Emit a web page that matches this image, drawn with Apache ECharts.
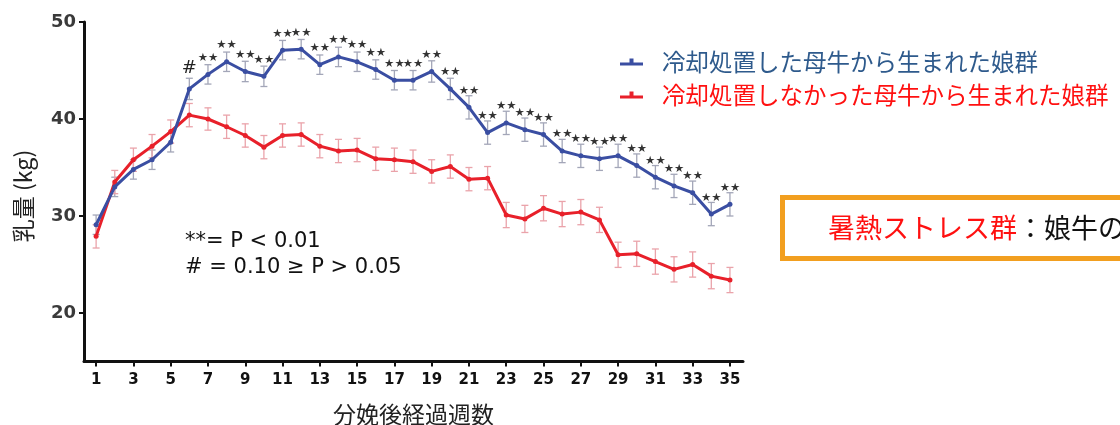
<!DOCTYPE html>
<html>
<head>
<meta charset="utf-8">
<script src="https://cdn.jsdelivr.net/npm/echarts@6/dist/echarts.min.js"></script>
<style>
html,body{margin:0;padding:0;background:#fff;}
#chart{width:1120px;height:425px;}
</style>
</head>
<body>
<div id="chart"></div>
<script>
// ---- data ----
var weeks = [1,2,3,4,5,6,7,8,9,10,11,12,13,14,15,16,17,18,19,20,21,22,23,24,25,26,27,28,29,30,31,32,33,34,35];
var blueVals = [29.1,33.0,34.8,35.8,37.6,43.1,44.6,45.9,44.9,44.4,47.1,47.2,45.6,46.4,45.9,45.1,44.0,44.0,44.9,43.1,41.2,38.6,39.6,38.9,38.4,36.7,36.2,35.9,36.2,35.2,34.0,33.1,32.4,30.2,31.2];
var blueErr  = [1.0,1.0,1.0,1.0,1.0,1.1,1.0,1.0,1.05,1.05,1.0,1.0,1.0,1.0,1.0,1.0,1.0,1.0,1.1,1.1,1.2,1.2,1.2,1.2,1.2,1.2,1.2,1.2,1.2,1.2,1.2,1.2,1.2,1.2,1.2];
var redVals  = [27.9,33.5,35.8,37.2,38.7,40.4,40.0,39.2,38.3,37.1,38.3,38.4,37.2,36.7,36.8,35.9,35.8,35.6,34.6,35.1,33.8,33.9,30.1,29.7,30.8,30.2,30.4,29.6,26.0,26.1,25.3,24.5,25.0,23.8,23.4];
var redErr   = [1.2,1.2,1.2,1.2,1.2,1.2,1.15,1.2,1.2,1.2,1.2,1.2,1.2,1.2,1.2,1.2,1.2,1.2,1.2,1.2,1.2,1.2,1.3,1.4,1.3,1.3,1.3,1.3,1.3,1.3,1.3,1.3,1.3,1.3,1.3];
var sig = ['','','','','','#','**','**','**','**','**','**','**','**','**','**','**','**','**','**','**','**','**','**','**','**','**','**','**','**','**','**','**','**','**'];
var xTicks = [1,3,5,7,9,11,13,15,17,19,21,23,25,27,29,31,33,35];
var yTicks = [20,30,40,50];
var nameBlue = '冷却処置した母牛から生まれた娘群';
var nameRed = '冷却処置しなかった母牛から生まれた娘群';

// ---- build ----
var BLUE = '#3a4ea2', RED = '#e8202a';
function pairs(vals){ return weeks.map(function(w,i){ return [w, vals[i]]; }); }
function errData(vals, errs){ return weeks.map(function(w,i){ return [w, vals[i], errs[i]]; }); }
function errRender(color){
  return function(params, api){
    var w = api.value(0), v = api.value(1), e = api.value(2);
    var top = api.coord([w, v + e]), bot = api.coord([w, v - e]);
    var c = 3.5;
    var st = {stroke: color, lineWidth: 1.3};
    return {type:'group', children:[
      {type:'line', shape:{x1:top[0], y1:top[1], x2:bot[0], y2:bot[1]}, style:st},
      {type:'line', shape:{x1:top[0]-c, y1:top[1], x2:top[0]+c, y2:top[1]}, style:st},
      {type:'line', shape:{x1:bot[0]-c, y1:bot[1], x2:bot[0]+c, y2:bot[1]}, style:st}
    ]};
  };
}
var blueData = weeks.map(function(w,i){
  var d = {value:[w, blueVals[i]]};
  if (sig[i] === '**') {
    d.label = {show:true, position:'top', distance:8, formatter:'★★', fontSize:11.5, color:'#333', fontFamily:'DejaVu Sans'};
  } else if (sig[i] === '#') {
    d.label = {show:true, position:'top', distance:9, formatter:'#', fontSize:18, color:'#222', fontFamily:'DejaVu Sans'};
  }
  return d;
});
var legendIcon = 'path://M0,5 L23,5 L23,8 L0,8 Z M9.5,1 L13.5,1 L13.5,5 L9.5,5 Z';

var chart = echarts.init(document.getElementById('chart'), null, {renderer:'canvas'});
chart.setOption({
  animation:false,
  backgroundColor:'#ffffff',
  grid:{left:84, top:22, width:659, height:339.5, containLabel:false, outerBoundsMode:'none'},
  legend:{
    orient:'vertical', left:620, top:50, padding:0, itemWidth:23, itemHeight:8, itemGap:9,
    textStyle:{fontSize:23.5, lineHeight:24, fontFamily:'Noto Sans CJK JP', padding:[0,0,0,14]},
    data:[
      {name:nameBlue, icon:legendIcon, textStyle:{color:'#2e5a8c'}},
      {name:nameRed, icon:legendIcon, textStyle:{color:'#ff1010'}}
    ]
  },
  xAxis:{
    type:'value', min:0.35, max:35.7,
    name:'分娩後経過週数', nameLocation:'middle', nameGap:41,
    nameTextStyle:{fontSize:23, color:'#222', fontFamily:'Noto Sans CJK JP'},
    axisLine:{show:true, lineStyle:{color:'#111', width:3}},
    axisTick:{show:true, length:5, lineStyle:{color:'#111', width:2}, customValues:xTicks},
    axisLabel:{show:true, margin:11, fontSize:15, fontWeight:'bold', color:'#111', fontFamily:'DejaVu Sans', customValues:xTicks},
    splitLine:{show:false}
  },
  yAxis:{
    type:'value', min:15, max:50,
    axisLine:{show:true, lineStyle:{color:'#111', width:3}},
    axisTick:{show:true, length:5, lineStyle:{color:'#111', width:2}, customValues:yTicks},
    axisLabel:{show:true, margin:8, fontSize:18, fontWeight:'bold', color:'#3a3a3a', fontFamily:'DejaVu Sans', customValues:yTicks},
    splitLine:{show:false}
  },
  graphic:[
    {type:'text', x:23, y:196, rotation:Math.PI/2,
      style:{text:'乳量 (kg)', fontSize:23, fill:'#222', fontFamily:'Noto Sans CJK JP', align:'center', verticalAlign:'middle'}},
    {type:'text', left:185, top:229,
      style:{text:'**= P < 0.01\n# = 0.10 ≥ P > 0.05', fontSize:21, lineHeight:26, fill:'#111', fontFamily:'DejaVu Sans'}},
    {type:'rect', shape:{x:782.5, y:197.5, width:380, height:61}, style:{fill:'#fff', stroke:'#f29f1f', lineWidth:5}},
    {type:'text', x:828, y:228,
      style:{rich:{r:{fill:'#ff1010', fontSize:27, fontFamily:'Noto Sans CJK JP'}, k:{fill:'#111', fontSize:27, fontFamily:'Noto Sans CJK JP'}},
        text:'{r|暑熱ストレス群}{k|：娘牛の}', verticalAlign:'middle'}}
  ],
  series:[
    {type:'custom', name:'errBlue', renderItem:errRender('#a3a6b8'), data:errData(blueVals, blueErr), z:1, silent:true},
    {type:'custom', name:'errRed', renderItem:errRender('#eaa3aa'), data:errData(redVals, redErr), z:1, silent:true},
    {type:'line', name:nameRed, data:pairs(redVals), color:RED, lineStyle:{width:3, color:RED},
      symbol:'circle', symbolSize:5, itemStyle:{color:RED}, z:3},
    {type:'line', name:nameBlue, data:blueData, color:BLUE, lineStyle:{width:3, color:BLUE},
      symbol:'circle', symbolSize:5, itemStyle:{color:BLUE}, z:4, labelLayout:{hideOverlap:false}}
  ]
});
</script>
</body>
</html>
